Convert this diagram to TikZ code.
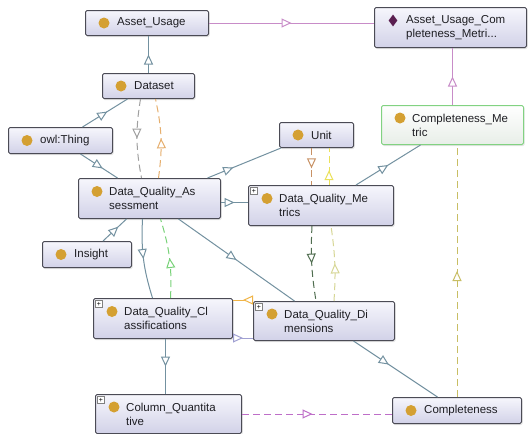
\documentclass[tikz,border=0pt]{standalone}
\usepackage{fontspec}
\setmainfont{Liberation Sans}
\usetikzlibrary{arrows.meta,decorations.markings,shadows,shapes.geometric,calc}
\definecolor{boxborder}{RGB}{75,75,85}
\definecolor{boxtop}{RGB}{246,246,252}
\definecolor{boxbot}{RGB}{210,210,232}
\definecolor{cmborder}{RGB}{130,210,130}
\definecolor{cmbot}{RGB}{232,238,232}
\definecolor{dotc}{RGB}{212,160,50}
\definecolor{diamc}{RGB}{90,30,80}
\definecolor{txt}{RGB}{30,30,35}
\definecolor{cbl}{RGB}{115,145,160}
\definecolor{cpk}{RGB}{200,140,200}
\definecolor{cpkd}{RGB}{190,110,200}
\definecolor{cgy}{RGB}{160,160,160}
\definecolor{cor}{RGB}{230,175,110}
\definecolor{cbr}{RGB}{200,145,100}
\definecolor{cyl}{RGB}{235,225,90}
\definecolor{cdg}{RGB}{80,110,80}
\definecolor{cpy}{RGB}{215,215,150}
\definecolor{cgn}{RGB}{120,210,120}
\definecolor{col}{RGB}{200,190,100}
\definecolor{cos}{RGB}{240,180,70}
\definecolor{clv}{RGB}{160,160,210}
\begin{document}
\begin{tikzpicture}[x=1pt,y=-1pt,
  box/.style={draw=boxborder, line width=1pt, rounded corners=1.5pt,
    top color=boxtop, bottom color=boxbot, inner sep=0pt, anchor=north west,
    drop shadow={shadow xshift=1pt, shadow yshift=-1.5pt, opacity=0.2}},
  cmbox/.style={box, draw=cmborder, top color=white, bottom color=cmbot},
  lbl/.style={anchor=west, inner sep=0pt, align=left, text=txt,
    font=\fontsize{11.5}{14}\selectfont},
  plusbox/.style={draw=gray, fill=white, line width=0.5pt, minimum size=7pt,
    inner sep=0pt, font=\fontsize{7}{7}\selectfont},
  ln/.style={line width=1pt},
  dsh/.style={ln, dash pattern=on 7pt off 4pt},
  midarr/.style={postaction={decorate, decoration={markings,
    mark=at position #1 with {\arrow{Triangle[fill=white, length=10pt, width=9pt]}}}}},
  midarr/.default=0.5,
  bl/.style={ln, draw=cbl}, pk/.style={ln, draw=cpk},
  pkd/.style={dsh, draw=cpkd}, gyd/.style={dsh, draw=cgy},
  ord/.style={dsh, draw=cor}, brd/.style={dsh, draw=cbr},
  yld/.style={dsh, draw=cyl}, dgd/.style={dsh, draw=cdg},
  pyd/.style={dsh, draw=cpy}, gnd/.style={dsh, draw=cgn},
  old/.style={dsh, draw=col}, ors/.style={ln, draw=cos},
  lav/.style={ln, draw=clv}]
\useasboundingbox[fill=white] (0,0) rectangle (528,434);

% boxes
\node[box, minimum width=123pt, minimum height=25pt] (au) at (85,10) {};
\node[box, minimum width=92pt, minimum height=25pt] (ds) at (102,73) {};
\node[box, minimum width=104pt, minimum height=26pt] (owl) at (8,127) {};
\node[box, minimum width=152pt, minimum height=40pt] (aucm) at (374,7) {};
\node[box, minimum width=74pt, minimum height=25pt] (unit) at (279,122) {};
\node[cmbox, minimum width=142pt, minimum height=39pt] (cm) at (381,105) {};
\node[box, minimum width=142pt, minimum height=40pt] (dqa) at (78,178) {};
\node[box, minimum width=145pt, minimum height=40pt] (dqm) at (248,185) {};
\node[box, minimum width=89pt, minimum height=26pt] (ins) at (42,241) {};
\node[box, minimum width=139pt, minimum height=40pt] (dqc) at (93,298) {};
\node[box, minimum width=141pt, minimum height=39pt] (dqd) at (253,301) {};
\node[box, minimum width=146pt, minimum height=39pt] (cq) at (95,394) {};
\node[box, minimum width=129pt, minimum height=26pt] (comp) at (392,397) {};

% icons
\foreach \n in {au,ds,owl,unit,ins,comp}
  \fill[dotc] ([xshift=19pt]\n.west) circle (5.5pt);
\foreach \n in {cm,dqa,dqm,dqc,dqd,cq}
  \fill[dotc] ([xshift=19pt,yshift=7pt]\n.west) circle (5.5pt);
\node[diamond, fill=diamc, minimum width=9pt, minimum height=12pt, inner sep=0pt]
  (aucm-d) at ([xshift=19pt,yshift=7pt]aucm.west) {};
\node[plusbox] (dqm-p) at ([xshift=6pt,yshift=-6pt]dqm.north west) {+};
\node[plusbox] (dqc-p) at ([xshift=6pt,yshift=-6pt]dqc.north west) {+};
\node[plusbox] (dqd-p) at ([xshift=6pt,yshift=-6pt]dqd.north west) {+};
\node[plusbox] (cq-p) at ([xshift=6pt,yshift=-6pt]cq.north west) {+};

% labels
\node[lbl] (au-t) at ([xshift=32pt]au.west) {Asset\_Usage};
\node[lbl] (ds-t) at ([xshift=32pt]ds.west) {Dataset};
\node[lbl] (owl-t) at ([xshift=32pt]owl.west) {owl:Thing};
\node[lbl] (aucm-t) at ([xshift=32pt]aucm.west) {Asset\_Usage\_Com\\pleteness\_Metri...};
\node[lbl] (unit-t) at ([xshift=32pt]unit.west) {Unit};
\node[lbl] (cm-t) at ([xshift=31pt]cm.west) {Completeness\_Me\\tric};
\node[lbl] (dqa-t) at ([xshift=31pt]dqa.west) {Data\_Quality\_As\\sessment};
\node[lbl] (dqm-t) at ([xshift=31pt]dqm.west) {Data\_Quality\_Me\\trics};
\node[lbl] (ins-t) at ([xshift=32pt]ins.west) {Insight};
\node[lbl] (dqc-t) at ([xshift=31pt]dqc.west) {Data\_Quality\_Cl\\assifications};
\node[lbl] (dqd-t) at ([xshift=31pt]dqd.west) {Data\_Quality\_Di\\mensions};
\node[lbl] (cq-t) at ([xshift=31pt]cq.west) {Column\_Quantita\\tive};
\node[lbl] (comp-t) at ([xshift=32pt]comp.west) {Completeness};

% connectors
\draw[bl, midarr] (ds.north) -- (ds.north |- au.south);
\draw[pk, midarr] (au.east) -- (au.east -| aucm.west);
\draw[pk, midarr] (cm.north) -- (cm.north |- aucm.south);
\draw[bl, midarr=0.55] ([xshift=22pt]owl.north) -- ([xshift=-21pt]ds.south);
\draw[bl, midarr=0.6] ([xshift=20pt]owl.south) -- ([xshift=-32pt]dqa.north);
\draw[gyd, midarr] ([xshift=-8pt]ds.south) to[bend right=10] ([xshift=-8pt]dqa.north);
\draw[ord, midarr] ([xshift=9pt]dqa.north) to[bend right=10] ([xshift=7pt]ds.south);
\draw[bl, midarr=0.35] ([xshift=58pt]dqa.north) -- ([xshift=2pt]unit.south west);
\coordinate (p1) at ([yshift=-4pt]dqa.east);
\draw[bl, midarr] (p1) -- (p1 -| dqm.west);
\coordinate (u1) at ([xshift=-5pt]unit.south);
\draw[brd, midarr=0.55] (u1) -- (u1 |- dqm.north);
\coordinate (u2) at ([xshift=8pt]dqm.north);
\draw[yld, midarr=0.4] (u2) -- (u2 |- unit.south);
\draw[bl, midarr] ([xshift=35pt]dqm.north) -- ([xshift=-32pt]cm.south);
\draw[old, midarr] (comp.north) -- (comp.north |- cm.south);
\draw[dgd, midarr] ([xshift=-9pt]dqm.south) to[bend right=6] ([xshift=-8pt]dqd.north);
\draw[pyd, midarr] ([xshift=10pt]dqd.north) to[bend right=6] ([xshift=10pt]dqm.south);
\draw[bl, midarr=0.65] ([xshift=16pt]ins.north) -- ([xshift=-23pt]dqa.south);
\draw[bl, midarr] ([xshift=-7pt]dqa.south) to[bend right=10] ([xshift=-10.5pt]dqc.north);
\draw[gnd, midarr] ([xshift=7.5pt]dqc.north) to[bend right=10] ([xshift=11pt]dqa.south);
\draw[bl, midarr] ([xshift=29pt]dqa.south) -- ([xshift=-29.5pt]dqd.north);
\coordinate (o1) at ([yshift=1pt]dqd.north west);
\draw[ors, midarr] (o1) -- (o1 -| dqc.east);
\coordinate (v1) at ([yshift=1pt]dqc.south east);
\draw[lav, midarr] (v1) -- (v1 -| dqd.west);
\coordinate (c1) at ([xshift=2.5pt]dqc.south);
\draw[bl, midarr] (c1) -- (c1 |- cq.north);
\draw[pkd, midarr=0.47] (cq.east) -- (cq.east -| comp.west);
\draw[bl, midarr=0.42] ([xshift=29.5pt]dqd.south) -- ([xshift=-19.5pt]comp.north);
\end{tikzpicture}
\end{document}
